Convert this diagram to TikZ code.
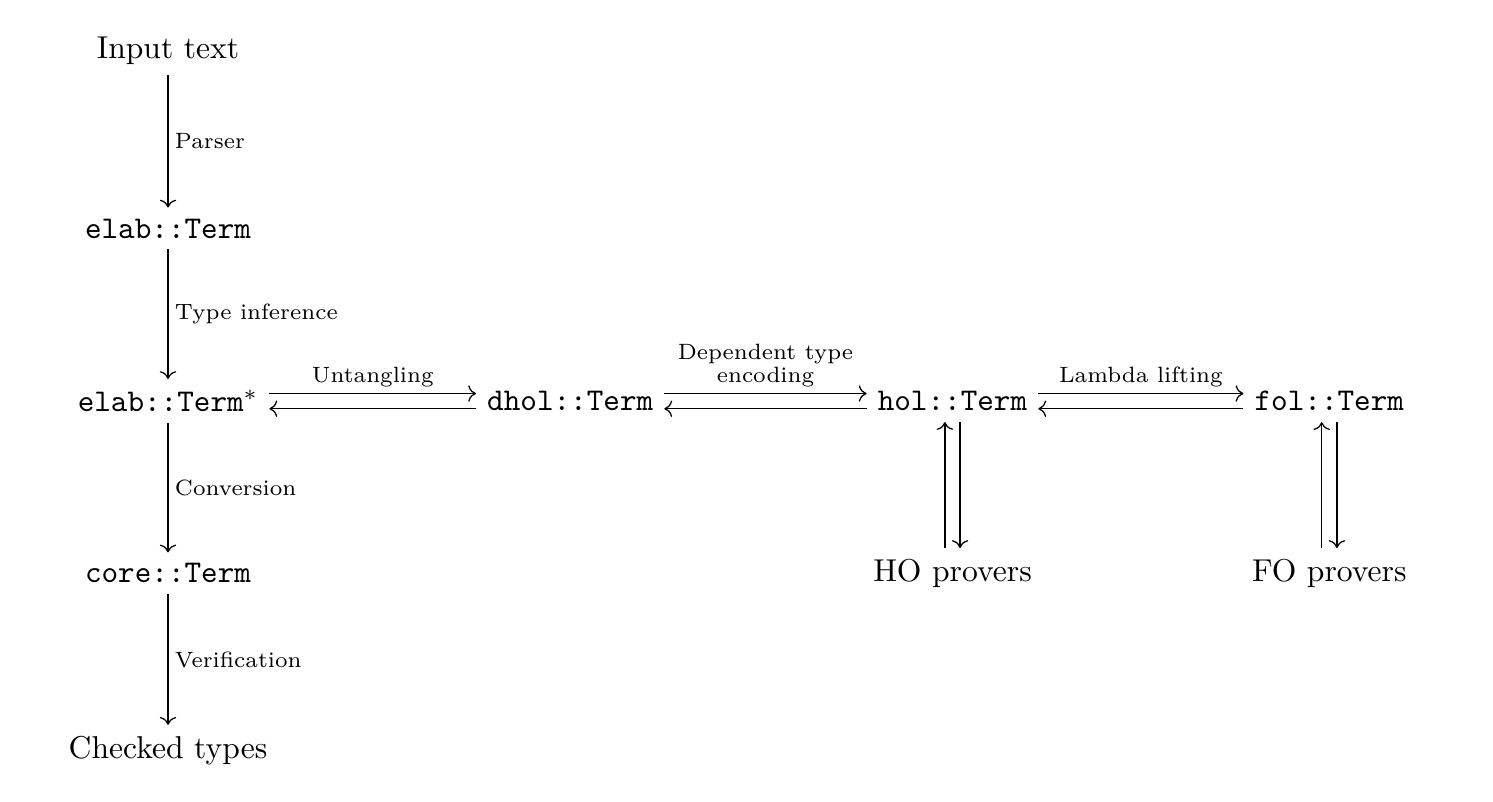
\documentclass[tikz,border=0pt]{standalone}
\usepackage{tikz}
\usetikzlibrary{arrows}
\usetikzlibrary{cd}
\usetikzlibrary{calc}

\begin{document}
\begin{tikzpicture}[>=cm to, lbl/.style={font=\scriptsize, inner sep=2pt}, term/.style={font=\ttfamily}]
  \useasboundingbox (0, 0) rectangle (16.6, 8.91);

  % Define the coordinates of the columns and rows
  \coordinate (A) at (1.868, 8.35);
  \coordinate (B) at (1.868, 6.37);
  \coordinate (C) at (1.868, 4.45);
  \coordinate (D) at (1.868, 2.535);
  \coordinate (E) at (1.868, 0.567);

  % Left column: from the text to the checked types
  \node (input) at (A) {Input text};
  \node[term] (elab) at (B) {elab::Term};
  \node[term] (elabs) at (C) {elab::Term$^*$};
  \node[term] (core) at (D) {core::Term};
  \node (checked) at (E) {Checked types};

  % Middle row: the term languages
  \node[term] (dhol) at (6.34, 4.45) {dhol::Term};
  \node[term] (hol) at (10.59, 4.45) {hol::Term};
  \node[term] (fol) at (14.78, 4.45) {fol::Term};

  % The provers below
  \node (ho) at (10.59, 2.535) {HO provers};
  \node (fo) at (14.78, 2.535) {FO provers};

  % Draw the vertical pipeline
  \draw[->] (input) -- node[lbl, right] {Parser} (elab);
  \draw[->] (elab) -- node[lbl, right] {Type inference} (elabs);
  \draw[->] (elabs) -- node[lbl, right] {Conversion} (core);
  \draw[->] (core) -- node[lbl, right] {Verification} (checked);

  % Draw the translations back and forth
  \draw[->] ([yshift=2.4pt]elabs.east) -- node[lbl, above] {Untangling} ([yshift=2.4pt]dhol.west);
  \draw[->] ([yshift=-2.4pt]dhol.west) -- ([yshift=-2.4pt]elabs.east);
  \draw[->] ([yshift=2.4pt]dhol.east) -- node[lbl, above, align=center] {Dependent type\\[-1pt]encoding} ([yshift=2.4pt]hol.west);
  \draw[->] ([yshift=-2.4pt]hol.west) -- ([yshift=-2.4pt]dhol.east);
  \draw[->] ([yshift=2.4pt]hol.east) -- node[lbl, above] {Lambda lifting} ([yshift=2.4pt]fol.west);
  \draw[->] ([yshift=-2.4pt]fol.west) -- ([yshift=-2.4pt]hol.east);

  % Draw the links to the provers
  \draw[->] ([xshift=-2.4pt]ho.north) -- ([xshift=-2.4pt]hol.south);
  \draw[->] ([xshift=2.4pt]hol.south) -- ([xshift=2.4pt]ho.north);
  \draw[->] ([xshift=-2.4pt]fo.north) -- ([xshift=-2.4pt]fol.south);
  \draw[->] ([xshift=2.4pt]fol.south) -- ([xshift=2.4pt]fo.north);
\end{tikzpicture}
\end{document}
